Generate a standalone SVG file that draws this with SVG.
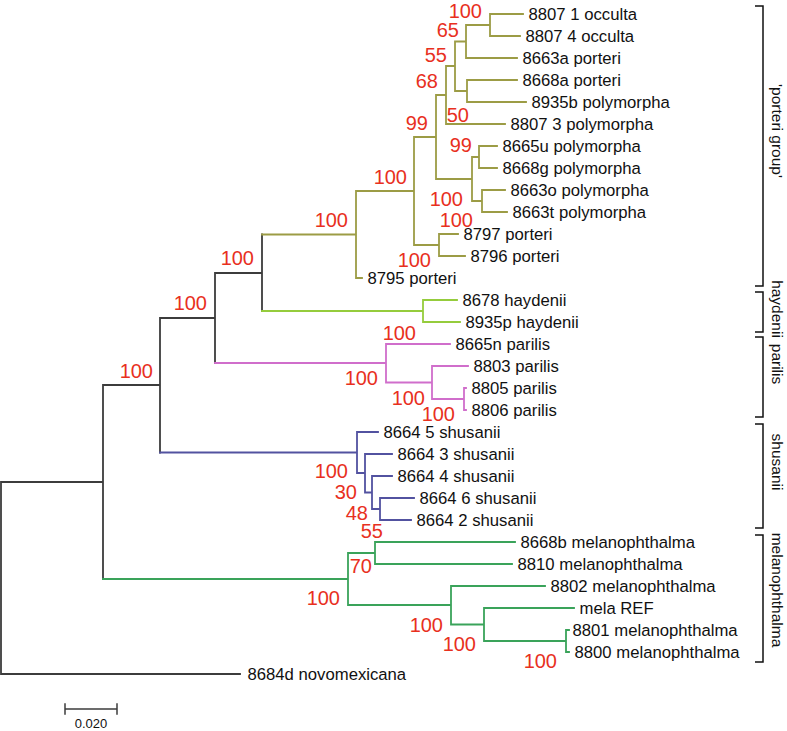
<svg xmlns="http://www.w3.org/2000/svg" width="787" height="731" viewBox="0 0 787 731">
<style>
.b{fill:none;stroke-width:1.8;stroke-linecap:square}
.gray{stroke:#3c3c3c}
.olive{stroke:#9c9c45}
.hay{stroke:#95cc3c}
.par{stroke:#d06ecb}
.shu{stroke:#5252a0}
.mel{stroke:#3aa35a}
.lf{font-family:"Liberation Sans",Arial,sans-serif;font-size:16.7px;fill:#111}
.bs{font-family:"Liberation Sans",Arial,sans-serif;font-size:20px;fill:#e8301e;text-anchor:end}
.br{fill:none;stroke:#111;stroke-width:1.5}
.cl{font-family:"Liberation Sans",Arial,sans-serif;font-size:15.5px;fill:#111;text-anchor:middle}
.sc{font-family:"Liberation Sans",Arial,sans-serif;font-size:13px;fill:#111;text-anchor:middle}
</style>
<rect width="787" height="731" fill="#fff"/>
<g id="connectors">
<path class="b gray" d="M262,234.5V311M215,273V363M215,273H262M160,318V452.5M160,318H215M103,385V579M103,385H160M1,482V674M1,482H103M1,674H240"/>
<path class="b olive" d="M490,14V36M490,14H523M490,36H520M466,25V58M466,25H490M466,58H517M467,80V102M467,80H517M467,102H526M455,41.5V91M455,41.5H466M455,91H467M446,66V124M446,66H455M446,124H505M479,146V168M479,146H497M479,168H497M482,190V212M482,190H505M482,212H507M472,157V201M472,157H479M472,201H482M436,95V179M436,95H446M436,179H472M439,234V256M439,234H458M439,256H465M414,137V245M414,137H436M414,245H439M356,191V278M356,191H414M356,278H362M262,234.5H356"/>
<path class="b hay" d="M262,311H423M423,300V322M423,300H457M423,322H460"/>
<path class="b par" d="M215,363H386M386,344V382.5M386,344H450M386,382.5H432M432,366V399M432,366H468M432,399H464M464,388V410M464,388H466M464,410H466"/>
<path class="b shu" d="M160,452.5H357M357,432V473M357,432H378M357,473H365M365,454V492.5M365,454H392M365,492.5H372M372,476V509M372,476H392M372,509H380M380,498V520M380,498H414M380,520H411"/>
<path class="b mel" d="M103,579H348M348,553V605M348,553H375M348,605H451M375,542V564M375,542H515M375,564H512M451,586V624.5M451,586H545M451,624.5H484M484,608V641M484,608H574M484,641H566M566,630V652M566,630H569M566,652H569"/>
</g>
<g id="leaves">
<g id="leaf0"><text class="lf" x="528.5" y="20">8807 1 occulta</text></g>
<g id="leaf1"><text class="lf" x="525.5" y="42">8807 4 occulta</text></g>
<g id="leaf2"><text class="lf" x="522.5" y="64">8663a porteri</text></g>
<g id="leaf3"><text class="lf" x="522.5" y="86">8668a porteri</text></g>
<g id="leaf4"><text class="lf" x="531.5" y="108">8935b polymorpha</text></g>
<g id="leaf5"><text class="lf" x="510.5" y="130">8807 3 polymorpha</text></g>
<g id="leaf6"><text class="lf" x="502.5" y="152">8665u polymorpha</text></g>
<g id="leaf7"><text class="lf" x="502.5" y="174">8668g polymorpha</text></g>
<g id="leaf8"><text class="lf" x="510.5" y="196">8663o polymorpha</text></g>
<g id="leaf9"><text class="lf" x="512.5" y="218">8663t polymorpha</text></g>
<g id="leaf10"><text class="lf" x="463.5" y="240">8797 porteri</text></g>
<g id="leaf11"><text class="lf" x="470.5" y="262">8796 porteri</text></g>
<g id="leaf12"><text class="lf" x="367.5" y="284">8795 porteri</text></g>
<g id="leaf13"><text class="lf" x="462.5" y="306">8678 haydenii</text></g>
<g id="leaf14"><text class="lf" x="465.5" y="328">8935p haydenii</text></g>
<g id="leaf15"><text class="lf" x="455.5" y="350">8665n parilis</text></g>
<g id="leaf16"><text class="lf" x="473.5" y="372">8803 parilis</text></g>
<g id="leaf17"><text class="lf" x="471.5" y="394">8805 parilis</text></g>
<g id="leaf18"><text class="lf" x="471.5" y="416">8806 parilis</text></g>
<g id="leaf19"><text class="lf" x="383.5" y="438">8664 5 shusanii</text></g>
<g id="leaf20"><text class="lf" x="397.5" y="460">8664 3 shusanii</text></g>
<g id="leaf21"><text class="lf" x="397.5" y="482">8664 4 shusanii</text></g>
<g id="leaf22"><text class="lf" x="419.5" y="504">8664 6 shusanii</text></g>
<g id="leaf23"><text class="lf" x="416.5" y="526">8664 2 shusanii</text></g>
<g id="leaf24"><text class="lf" x="520.5" y="548">8668b melanophthalma</text></g>
<g id="leaf25"><text class="lf" x="517.5" y="570">8810 melanophthalma</text></g>
<g id="leaf26"><text class="lf" x="550.5" y="592">8802 melanophthalma</text></g>
<g id="leaf27"><text class="lf" x="579.5" y="614">mela REF</text></g>
<g id="leaf28"><text class="lf" x="572.5" y="636">8801 melanophthalma</text></g>
<g id="leaf29"><text class="lf" x="574.5" y="658">8800 melanophthalma</text></g>
<g id="leaf30"><text class="lf" x="247.5" y="680">8684d novomexicana</text></g>
</g>
<g id="bootstrap">
<text class="bs" x="482" y="18">100</text>
<text class="bs" x="459" y="37">65</text>
<text class="bs" x="447" y="62">55</text>
<text class="bs" x="438" y="88">68</text>
<text class="bs" x="469" y="122">50</text>
<text class="bs" x="428" y="130">99</text>
<text class="bs" x="472" y="152">99</text>
<text class="bs" x="407" y="184">100</text>
<text class="bs" x="463" y="206">100</text>
<text class="bs" x="473" y="227">100</text>
<text class="bs" x="348" y="227">100</text>
<text class="bs" x="431" y="267">100</text>
<text class="bs" x="254" y="265">100</text>
<text class="bs" x="416" y="340">100</text>
<text class="bs" x="207" y="310">100</text>
<text class="bs" x="378" y="385">100</text>
<text class="bs" x="153" y="378">100</text>
<text class="bs" x="425" y="405">100</text>
<text class="bs" x="455" y="421">100</text>
<text class="bs" x="348" y="478">100</text>
<text class="bs" x="357" y="499">30</text>
<text class="bs" x="368" y="520">48</text>
<text class="bs" x="383" y="538">55</text>
<text class="bs" x="372" y="573">70</text>
<text class="bs" x="340" y="605">100</text>
<text class="bs" x="443" y="632">100</text>
<text class="bs" x="476" y="651">100</text>
<text class="bs" x="557" y="668">100</text>
</g>
<g id="clade-porteri"><path class="br" d="M755,6H763V286H755"/><text class="cl" transform="translate(772,131) rotate(90)">'porteri group'</text></g>
<g id="clade-haydenii"><path class="br" d="M755,292H763V332H755"/><text class="cl" transform="translate(772,309) rotate(90)">haydenii</text></g>
<g id="clade-parilis"><path class="br" d="M755,337H763V417H755"/><text class="cl" transform="translate(772,364) rotate(90)">parilis</text></g>
<g id="clade-shusanii"><path class="br" d="M755,424H763V528H755"/><text class="cl" transform="translate(772,462) rotate(90)">shusanii</text></g>
<g id="clade-melanophthalma"><path class="br" d="M755,535H763V662H755"/><text class="cl" transform="translate(772,590) rotate(90)">melanophthalma</text></g>
<g id="scalebar"><path class="b gray" d="M65,709H117M65,704V714M117,704V714" style="stroke-width:1.5"/><text class="sc" x="91" y="728">0.020</text></g>
</svg>
